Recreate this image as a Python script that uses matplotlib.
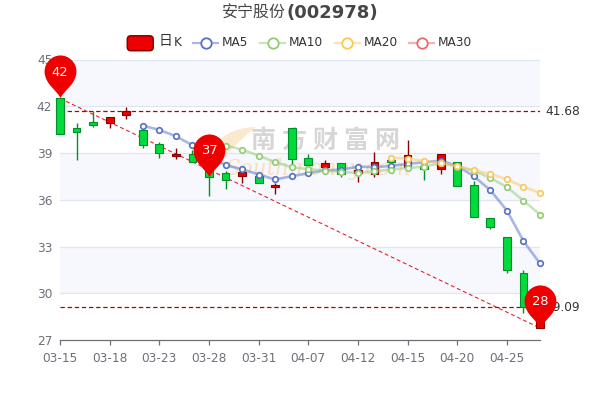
import numpy as np
from matplotlib import pyplot as plt
from matplotlib.lines import Line2D
from matplotlib.patches import FancyBboxPatch, PathPatch
from matplotlib.path import Path
from matplotlib.transforms import Affine2D

dates = ['03-15','03-16','03-17','03-18','03-21','03-22','03-23','03-24','03-25','03-28',
         '03-29','03-30','03-31','04-01','04-06','04-07','04-08','04-11','04-12','04-13',
         '04-14','04-15','04-18','04-19','04-20','04-21','04-22','04-25','04-26','04-27']

opens = [42.5,40.6,41.0,40.9,41.42,40.46,39.58,38.8,38.92,38.0,
         37.7,37.5,37.5,36.8,40.6,38.67,38.09,38.35,37.7,37.66,
         38.53,38.13,38.19,37.96,38.41,36.95,34.86,33.64,31.33,27.77]
closes = [40.2,40.37,40.82,41.3,41.68,39.54,38.99,38.92,38.45,37.47,
          37.28,37.75,37.06,36.94,38.6,38.22,38.35,37.64,37.92,38.45,
          38.43,38.88,37.98,38.92,36.9,34.88,34.28,31.46,29.12,28.8]
lows = [40.2,38.55,40.7,40.6,41.17,39.35,38.7,38.6,38.45,36.27,
        36.7,37.06,37.06,36.36,38.24,38.22,37.74,37.49,37.17,37.49,
        38.2,38.13,37.28,37.66,36.9,34.88,34.1,31.33,28.73,27.77]
highs = [42.5,40.95,41.72,41.33,41.94,40.46,39.7,39.3,39.2,38.0,
         37.85,38.1,37.75,37.06,40.6,38.94,38.56,38.35,38.2,39.05,
         38.9,39.84,38.6,38.92,38.41,37.2,34.86,33.64,31.5,28.8]

ma5 = [None]*5 + [40.76,40.48,40.08,39.5,38.8,38.22,37.96,37.62,37.3,37.51,37.7,37.9,37.92,38.13,
                  38.09,38.17,38.3,38.41,38.51,38.17,37.51,36.61,35.31,33.35,31.91]
ma10 = [None]*10 + [39.48,39.22,38.83,38.41,38.09,37.96,37.87,37.79,37.72,37.83,
                    37.94,38.04,38.13,38.35,38.13,37.87,37.4,36.81,35.95,35.05]
ma20 = [None]*20 + [38.7,38.64,38.49,38.38,38.15,37.9,37.66,37.3,36.83,36.44]

ma_names = ['MA5','MA10','MA20','MA30']
ma_colors = ['#5470c6','#91cc75','#fac858','#ee6666']
ma_series = [ma5, ma10, ma20]

pin_idx = [0, 9, 29]
pin_val = [42.5, 37.47, 27.77]
pin_text = ['42', '37', '28']
mark_levels = [41.68, 29.09]
mark_labels = ['41.68', '29.09']
yticks = [27,30,33,36,39,42,45]

up = '#ec0000'
up_edge = '#8a0000'
down = '#00da3c'
down_edge = '#008f28'
grey = '#6e7079'


def px(x, y):
    return x/600, 1 - y/400


fig = plt.figure(figsize=(6, 4), dpi=100)
ax = fig.add_axes([60/600, 1-340/400, 480/600, 280.5/400])
ax.set_xlim(0, 29)
ax.set_ylim(27, 45)

# bands and grid
for lo in [42, 36, 30]:
    ax.axhspan(lo, lo+3, color='#f6f8fd', lw=0, zorder=0)
for t in yticks[1:]:
    ax.axhline(t, color='#e0e6f1', lw=0.9, zorder=1)

# watermark, under the candles (pixel coords, y down)
pixels = Affine2D().scale(1, -1).translate(0, 400)
moon = Path([(256,127),(208,128),(208,176),(236,142),(256,127)],
            [Path.MOVETO,Path.CURVE3,Path.CURVE3,Path.CURVE3,Path.CURVE3])
ax.add_patch(PathPatch(moon, transform=pixels, fc='#fbe3c4', ec='none', alpha=0.8, zorder=1.5, clip_on=False))
for ch, cx in zip('南方财富网', [263, 294, 325, 356, 387]):
    ax.text(cx, 141, ch, transform=pixels, ha='center', va='center', color='#d6d6d6',
            fontsize=18, fontweight='bold', family=['Noto Sans CJK SC'], zorder=1.6)
ax.text(318, 169, 'Southmoney.com', transform=pixels, ha='center', va='center',
        color='#f9dfc0', fontsize=15.5, style='italic', family=['DejaVu Serif'], zorder=1.6)

# mark lines
for v in mark_levels:
    ax.axhline(v, color='#b00000', lw=0.9, ls=(0, (3.5, 2.2)), zorder=2)
ax.plot([pin_idx[0], pin_idx[2]], [pin_val[0], pin_val[2]], color='#e8202a', lw=0.8, ls=(0, (3.5, 2.5)), zorder=2, clip_on=False)

# candles
for i in range(len(dates)):
    rising = closes[i] >= opens[i]
    ax.vlines(i, lows[i], highs[i], color=up_edge if rising else down_edge, lw=1, zorder=3, clip_on=False)
    ax.bar(i, abs(closes[i]-opens[i]), bottom=min(opens[i], closes[i]), width=0.47,
           color=up if rising else down, edgecolor=up_edge if rising else down_edge, lw=0.8, zorder=3, clip_on=False)

# moving averages
xs = np.arange(len(dates))
for s, c, z in zip(ma_series, ma_colors, [4, 4.1, 4.2]):
    y = np.array([np.nan if v is None else v for v in s])
    ax.plot(xs, y, color=c, lw=1.9, alpha=0.5, zorder=z, clip_on=False)
    ax.plot(xs, y, ls='none', marker='o', ms=4, mfc='white', mec=c, mew=1.2, zorder=z+0.05, clip_on=False)

# pins
pin = Path([(0,0),(-0.04,0.16),(-0.37,0.32),(-0.37,0.63),(-0.37,0.83),(-0.2,1),(0,1),
            (0.2,1),(0.37,0.83),(0.37,0.63),(0.37,0.32),(0.04,0.16),(0,0)],
           [Path.MOVETO]+[Path.CURVE4]*12)
for i, v, t in zip(pin_idx, pin_val, pin_text):
    ax.plot(i, v, marker=pin, ms=62, mfc='#ee0000', mec='none', ls='none', zorder=6, clip_on=False)
    ax.annotate(t, (i, v), xytext=(0, 19), textcoords='offset points', ha='center', va='center',
                color='white', fontsize=9.4, zorder=7)

# axes
for s in ['top','left','right']:
    ax.spines[s].set_visible(False)
ax.spines['bottom'].set_color(grey)
ax.spines['bottom'].set_linewidth(0.9)
ax.set_xticks(xs[::3])
ax.set_xticklabels(dates[::3])
ax.set_yticks(yticks)
ax.tick_params(axis='x', color=grey, labelcolor=grey, labelsize=8.7, length=3.6, width=0.9, pad=5)
ax.tick_params(axis='y', length=0, labelcolor=grey, labelsize=8.7, pad=5.5)

for v, t in zip(mark_levels, mark_labels):
    ax.annotate(t, (29, v), xytext=(4, 0), textcoords='offset points', va='center', ha='left',
                color='#333333', fontsize=8.7, zorder=5, annotation_clip=False)

# title
fig.text(*px(286, 13), '安宁股份', ha='right', va='center', color='#464646', fontsize=11.5, family=['Noto Sans CJK SC'])
fig.text(*px(286, 13), '(002978)', ha='left', va='center', color='#464646', fontsize=13, fontweight='bold')

# legend
fig.add_artist(FancyBboxPatch(px(128.5, 49.5), 23.5/600, 12.5/400, boxstyle='round,pad=0.002,rounding_size=0.006',
                              transform=fig.transFigure, fc='#ee0000', ec=up_edge, lw=1.1, mutation_aspect=1.5))
fig.text(*px(159, 41.5), '日', ha='left', va='center', color='#333333', fontsize=10, family=['Noto Sans CJK SC'])
fig.text(*px(174, 42.5), 'K', ha='left', va='center', color='#333333', fontsize=8.7)
for name, c, x0 in zip(ma_names, ma_colors, [193, 260, 335, 409]):
    lx, ly = px(x0, 42.5)
    lx2, _ = px(x0+25, 42.5)
    fig.add_artist(Line2D([lx, lx2], [ly, ly], transform=fig.transFigure, color=c, lw=1.6, alpha=0.5))
    fig.add_artist(Line2D([(lx+lx2)/2], [ly], transform=fig.transFigure, marker='o', ms=7.5, mfc='white', mec=c, mew=1.3))
    fig.text(*px(x0+29, 42.5), name, ha='left', va='center', color='#333333', fontsize=8.7)

fig.savefig('out.png', dpi=100)
